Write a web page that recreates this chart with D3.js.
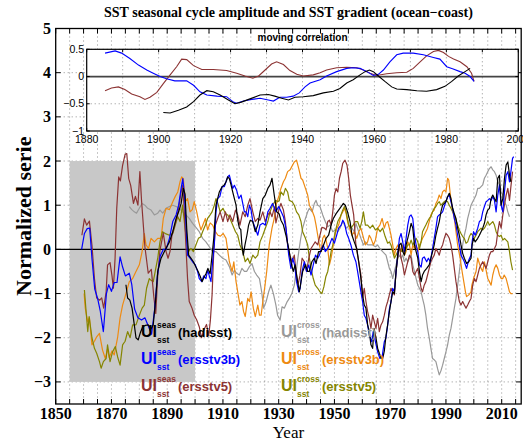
<!DOCTYPE html>
<html><head><meta charset="utf-8">
<script src="https://cdn.jsdelivr.net/npm/d3@7"></script>
<style>body{margin:0;background:#fff}</style>
</head><body><svg id="c" width="523" height="443"></svg>
<script>
// ---------- DATA ([year, value]) ----------
const seasHad = [[1875.2,-0.8],[1875.8,-1.1],[1876.6,-1.15],[1877.4,-1.33],[1878.2,-1.71],[1878.8,-2.0],[1879.6,-2.05],[1880.4,-1.88],[1881.2,-1.75],[1882.2,-1.72],[1883.2,-1.71],[1884.2,-1.8],[1885,-1.7],[1885.8,-1.18],[1886.6,-0.5],[1887.8,-0.2],[1889,-0.05],[1890.8,0.17],[1892,0.4],[1893.2,0.7],[1894.1,0.85],[1895,1.04],[1895.8,1.38],[1896.4,1.25],[1897,0.47],[1897.7,-0.13],[1898.5,-0.2],[1899.4,-0.28],[1900.3,-0.4],[1901.1,-0.5],[1901.9,-0.62],[1902.5,-0.73],[1903.3,-0.62],[1903.9,-0.55],[1904.6,-0.43],[1905.4,-0.55],[1906.1,-0.13],[1906.7,0.25],[1907.5,1.0],[1908.1,1.15],[1908.7,1.3],[1909.7,1.42],[1910.5,1.46],[1911.1,1.53],[1911.7,1.64],[1912.3,1.6],[1912.9,1.46],[1913.5,1.3],[1914.1,1.15],[1914.7,1.0],[1915.3,0.66],[1915.9,0.48],[1916.4,0.45],[1916.8,0.1],[1917.3,-0.13],[1917.9,0.1],[1918.6,0.32],[1919.2,0.55],[1919.8,0.66],[1920.7,0.63],[1921.6,0.4],[1922.5,0.55],[1923.3,0.85],[1924.3,1.15],[1925.2,1.23],[1926.1,1.38],[1926.9,1.46],[1927.6,1.61],[1928.4,1.23],[1929.3,0.85],[1930.2,0.8],[1930.8,0.66],[1931.7,0.55],[1932.6,0.32],[1933.6,0.02],[1934.4,-0.28],[1935.2,-0.5],[1935.9,-0.35],[1936.8,-0.73],[1937.4,-0.96],[1938,-0.73],[1938.6,-0.5],[1939.6,-0.35],[1940.4,-0.5],[1941,-0.5],[1941.9,-0.28],[1942.8,-0.2],[1943.4,-0.32],[1944.3,-0.05],[1945.2,-0.05],[1946.1,0.1],[1947,0.25],[1947.9,0.32],[1948.8,0.55],[1949.6,0.7],[1950.6,0.81],[1951.5,0.89],[1952.4,0.97],[1953.2,1.04],[1953.9,1.0],[1954.7,0.85],[1955.6,0.63],[1956.3,0.32],[1957.1,0.17],[1958,0.02],[1958.7,-0.28],[1959.5,-0.66],[1960.1,-1.03],[1960.7,-1.26],[1961.3,-1.33],[1961.9,-1.71],[1962.5,-1.86],[1963.1,-2.16],[1963.7,-2.24],[1964.2,-1.79],[1964.9,-2.0],[1965.5,-2.24],[1966.1,-2.35],[1966.7,-2.45],[1967.3,-2.47],[1967.9,-2.3],[1968.5,-1.95],[1969.1,-1.7],[1969.7,-1.41],[1970.3,-1.18],[1970.9,-0.96],[1971.5,-1.0],[1972.1,-0.5],[1972.7,-0.13],[1973.3,0.1],[1973.9,0.14],[1974.5,-0.05],[1975.1,-0.13],[1975.7,0.1],[1976.3,0.25],[1976.9,0.4],[1977.5,0.59],[1978.1,0.48],[1978.7,0.1],[1979.3,-0.05],[1979.9,-0.2],[1980.5,-0.5],[1981.1,-0.73],[1981.6,-0.58],[1982.2,-0.5],[1983.1,-0.43],[1984,-0.35],[1984.6,-0.2],[1985.2,-0.05],[1985.8,0.1],[1986.4,0.32],[1987,0.48],[1987.6,0.63],[1988.2,0.85],[1988.8,1.0],[1989.4,1.04],[1990,1.08],[1990.6,1.19],[1991.2,1.27],[1991.8,1.15],[1992.4,0.93],[1993,0.81],[1993.6,0.7],[1994.2,0.48],[1994.8,0.32],[1995.4,0.1],[1996,-0.09],[1996.6,-0.2],[1997.4,-0.32],[1998.2,-0.28],[1999,-0.2],[1999.4,0.1],[1999.9,0.25],[2000.5,0.17],[2001.4,0.25],[2002,0.32],[2002.6,0.4],[2003.2,0.48],[2003.8,0.59],[2004.4,0.78],[2005,0.89],[2005.6,0.93],[2006.2,1.15],[2006.8,1.23],[2007.4,1.15],[2008,1.08],[2008.6,1.61],[2009.2,1.68],[2009.8,1.0],[2010.4,1.15],[2011,1.61],[2011.6,1.91],[2012.2,1.98],[2012.8,1.68],[2013.3,1.53]];

const seasV3b = [[1859.3,0.0],[1860.3,0.36],[1861.3,0.47],[1862.2,0.48],[1863,-0.2],[1864,-0.9],[1865,-1.1],[1866,-1.4],[1867.1,-1.86],[1868.2,-1.0],[1869,-0.8],[1870,-0.95],[1871,-0.75],[1872,-0.75],[1873.1,-0.17],[1874,-0.4],[1875,-0.6],[1876.4,-0.54],[1877.3,-0.8],[1878.3,-1.35],[1879.5,-1.55],[1880.8,-1.6],[1882,-1.55],[1883,-1.7],[1884.4,-1.92],[1885.5,-1.35],[1886.5,-0.6],[1887.5,-0.15],[1888.6,0.0],[1889.6,0.0],[1890.8,0.25],[1892,0.63],[1893.2,0.78],[1894.1,1.0],[1895,1.38],[1895.6,1.6],[1896.2,1.23],[1896.8,0.48],[1897.3,-0.13],[1898.2,-0.2],[1899.1,-0.28],[1900.1,-0.35],[1900.9,-0.5],[1901.5,-0.66],[1902.4,-0.73],[1903.1,-0.6],[1903.9,-0.66],[1904.5,-0.47],[1905.1,-0.6],[1905.7,-0.73],[1906.3,-0.28],[1906.9,0.1],[1907.5,0.85],[1908.1,1.15],[1908.9,1.2],[1909.7,1.42],[1910.5,1.42],[1911.1,1.53],[1911.7,1.64],[1912.3,1.68],[1912.9,1.53],[1913.5,1.38],[1914.1,1.45],[1914.9,1.34],[1915.7,1.15],[1916.5,1.23],[1917.1,1.04],[1917.7,0.85],[1918.3,0.85],[1918.9,0.74],[1919.5,1.0],[1920.1,0.89],[1920.7,0.63],[1921.6,0.48],[1922.5,0.32],[1923.3,0.55],[1924.3,0.59],[1925.2,0.55],[1926.1,0.85],[1926.9,0.93],[1927.8,1.04],[1929,0.85],[1930,0.97],[1930.9,0.85],[1931.7,0.74],[1932.6,0.48],[1933.6,-0.13],[1934.4,-0.43],[1935,-0.2],[1935.7,-0.35],[1936.4,-0.73],[1937.2,-0.96],[1937.7,-0.88],[1938.4,-0.5],[1939.2,-0.28],[1940,-0.5],[1940.8,-0.35],[1941.6,-0.58],[1942.4,-0.35],[1943.2,-0.13],[1944,-0.2],[1944.6,-0.13],[1945.2,0.0],[1946,0.1],[1946.7,-0.05],[1947.6,0.02],[1948.2,0.1],[1949.1,0.25],[1950,0.14],[1950.8,0.32],[1951.5,0.48],[1952.4,0.55],[1953,0.66],[1953.6,0.59],[1954.4,0.36],[1955.1,0.25],[1955.9,0.1],[1956.8,-0.13],[1957.7,-0.28],[1958.3,-0.5],[1958.9,-0.73],[1959.5,-0.96],[1960.1,-1.18],[1960.7,-1.49],[1961.3,-1.56],[1961.9,-1.71],[1962.5,-1.94],[1963.4,-2.09],[1963.9,-1.86],[1964.7,-2.09],[1965.5,-2.32],[1966.3,-2.47],[1967.1,-2.43],[1967.9,-2.09],[1968.5,-2.0],[1969.1,-1.71],[1969.7,-1.35],[1970.3,-1.18],[1970.9,-0.88],[1971.5,-0.96],[1972.1,-0.5],[1972.7,-0.13],[1973.3,0.25],[1973.9,0.36],[1974.5,0.17],[1975.1,-0.05],[1975.7,0.25],[1976.3,0.55],[1976.9,0.74],[1977.5,0.78],[1978.1,0.7],[1978.7,0.32],[1979.3,0.1],[1979.9,-0.05],[1980.5,-0.35],[1981.1,-0.4],[1981.6,-0.2],[1982.2,-0.17],[1983.1,-0.28],[1983.7,-0.2],[1984.4,-0.28],[1985.2,0.02],[1985.8,0.25],[1986.4,0.48],[1987,0.74],[1987.6,0.78],[1988.2,0.81],[1988.8,0.85],[1989.4,0.97],[1990,1.08],[1990.6,1.19],[1991.2,1.23],[1991.8,1.08],[1992.4,0.93],[1993,0.7],[1993.6,0.55],[1994.2,0.32],[1994.8,0.1],[1995.4,-0.13],[1996,-0.2],[1996.6,-0.28],[1997.4,-0.43],[1998.2,-0.24],[1999,-0.13],[1999.4,0.17],[1999.9,0.4],[2000.5,0.32],[2001.4,0.48],[2002,0.63],[2002.6,0.66],[2003.2,0.85],[2003.8,0.97],[2004.4,1.08],[2005,1.11],[2005.6,1.15],[2006.2,1.11],[2006.8,1.19],[2007.4,1.11],[2008,0.85],[2008.6,1.23],[2009.2,1.46],[2009.8,1.0],[2010.4,0.85],[2011,1.3],[2011.6,1.68],[2012.2,1.76],[2012.8,1.53],[2013.3,1.76],[2013.9,2.06],[2014.3,2.1]];

const seasV5 = [[1859.4,0.32],[1860.3,0.69],[1861.1,0.55],[1862.1,0.64],[1863,0.1],[1863.9,-0.66],[1864.7,-1.1],[1865.8,-1.15],[1866.5,-1.1],[1867.2,-1.33],[1868.1,-0.96],[1868.6,-0.35],[1869.5,-0.3],[1870.2,-0.6],[1870.7,-0.88],[1871.3,-0.2],[1871.9,0.93],[1872.6,1.64],[1873.2,1.55],[1874,1.9],[1874.9,2.15],[1875.5,2.17],[1876.2,1.6],[1876.9,1.45],[1877.9,1.04],[1878.6,1.2],[1879.5,1.0],[1880.2,1.76],[1880.8,1.1],[1882,0.06],[1883.2,-0.54],[1884.3,-0.45],[1885.2,-1.07],[1885.9,-1.45],[1886.6,-0.6],[1887.4,-0.02],[1888.6,0.37],[1889.6,-0.05],[1890.3,-0.2],[1891,-0.05],[1891.7,0.32],[1892.5,0.5],[1893.4,0.7],[1894.1,0.93],[1895,1.3],[1895.6,1.46],[1896.1,0.9],[1896.7,0.1],[1897.3,-0.66],[1897.9,-1.18],[1898.9,-1.33],[1899.7,-1.49],[1900.6,-1.6],[1901.5,-1.75],[1902.3,-2.0],[1903.3,-1.8],[1904.1,-1.7],[1904.9,-1.95],[1905.5,-1.6],[1906.1,-1.03],[1906.7,-0.05],[1907.3,0.55],[1908.1,0.7],[1909,0.85],[1910,0.63],[1910.9,0.85],[1911.7,0.63],[1912.5,0.78],[1913.5,0.63],[1914.5,0.89],[1915.3,0.78],[1916.1,0.55],[1917.1,0.85],[1918,0.74],[1918.9,1.0],[1919.7,1.15],[1920.7,0.85],[1921.6,0.63],[1922.5,0.7],[1923.3,0.66],[1924.3,0.85],[1925.2,0.63],[1926.1,0.78],[1926.9,0.85],[1927.6,0.74],[1928.5,0.96],[1929,0.6],[1930.2,0.93],[1930.8,1.04],[1931.7,0.89],[1932.4,0.63],[1933.2,0.1],[1934,-0.13],[1934.8,-0.28],[1935.6,-0.13],[1936.2,-0.5],[1936.9,-0.81],[1937.6,-0.6],[1938.4,-0.2],[1939.2,-0.28],[1940,-0.5],[1940.8,-0.2],[1941.6,0.02],[1942.4,0.1],[1943.1,0.17],[1944,0.1],[1944.8,0.32],[1945.5,0.5],[1946.4,0.48],[1947,0.44],[1947.6,0.63],[1948.2,0.66],[1948.8,0.55],[1949.4,0.85],[1950,1.23],[1950.6,1.38],[1951.2,1.3],[1951.8,1.61],[1952.4,1.76],[1953,1.95],[1953.8,2.02],[1954.5,1.91],[1955.1,1.61],[1955.7,1.23],[1956.3,1.0],[1956.9,0.78],[1957.7,0.1],[1958.3,-0.13],[1958.9,-0.35],[1959.5,-0.58],[1960.1,-1.1],[1960.7,-0.88],[1961.3,-1.18],[1961.9,-1.41],[1962.5,-1.56],[1963.1,-1.79],[1963.7,-1.49],[1964.3,-1.64],[1964.9,-1.79],[1965.5,-1.56],[1966.1,-1.86],[1966.7,-1.71],[1967.3,-1.64],[1967.9,-1.49],[1968.5,-1.3],[1969.1,-1.18],[1969.7,-1.03],[1970.3,-0.88],[1970.9,-0.96],[1971.5,-1.03],[1972.1,-0.5],[1972.7,-0.2],[1973.3,0.1],[1973.9,-0.2],[1974.5,-0.35],[1975.1,-0.58],[1975.7,-0.43],[1976.3,-0.28],[1976.9,-0.13],[1977.5,-0.2],[1978.1,-0.5],[1978.7,-0.58],[1979.3,-0.5],[1979.9,-0.43],[1980.5,-0.66],[1981.1,-0.88],[1981.6,-0.96],[1982.2,-0.81],[1982.8,-0.73],[1983.4,-0.58],[1984,-0.43],[1984.6,-0.28],[1985.2,-0.2],[1985.8,-0.13],[1986.4,0.02],[1987,-0.05],[1987.6,-0.13],[1988.2,0.02],[1988.8,0.1],[1989.4,0.25],[1990,0.36],[1990.6,0.32],[1991.2,0.25],[1991.8,0.1],[1992.4,-0.13],[1993,-0.43],[1993.6,-0.73],[1994.2,-0.96],[1994.8,-1.18],[1995.4,-1.26],[1996,-1.18],[1996.6,-1.26],[1997.2,-1.33],[1997.8,-1.26],[1998.4,-1.18],[1999,-1.11],[1999.6,-0.81],[2000.2,-0.66],[2000.8,-0.73],[2001.4,-0.58],[2002,-0.43],[2002.6,-0.35],[2003.2,-0.28],[2003.8,-0.35],[2004.4,-0.43],[2005,-0.28],[2005.6,-0.13],[2006.2,-0.05],[2006.8,-0.05],[2007.4,0.02],[2008,0.1],[2008.6,0.4],[2009.2,0.63],[2009.8,0.48],[2010.4,0.78],[2011,1.0],[2011.6,1.23],[2012.2,1.38],[2012.8,1.11],[2013.3,1.42],[2013.9,1.76]];

const crossHad = [[1876.4,0.97],[1877.3,0.9],[1878.2,0.85],[1879,0.82],[1880,0.93],[1881,1.04],[1882,1.0],[1883,0.93],[1884.2,0.89],[1885.4,0.78],[1886.6,0.82],[1887.4,0.89],[1888.4,0.82],[1889.6,0.93],[1890.8,0.97],[1892,1.0],[1893.2,0.97],[1894.4,0.93],[1895.5,0.85],[1896.7,0.78],[1897.9,0.7],[1899.1,0.59],[1900.3,0.5],[1901.5,0.4],[1902.7,0.25],[1903.9,0.17],[1905.1,0.06],[1906.3,-0.05],[1907.5,-0.05],[1908.7,-0.13],[1909.9,-0.2],[1911.1,-0.24],[1912.3,-0.39],[1913.3,-0.58],[1914.1,-0.47],[1914.9,-0.54],[1915.9,-0.58],[1916.8,-0.43],[1917.7,-0.5],[1918.5,-0.5],[1919.5,-0.39],[1920.4,-0.32],[1921.3,-0.5],[1922.1,-0.58],[1923.1,-0.66],[1923.9,-0.96],[1924.6,-1.33],[1925.5,-1.18],[1926.4,-0.96],[1927.2,-0.81],[1928.1,-1.0],[1929,-1.26],[1929.6,-1.49],[1930.5,-1.6],[1931.2,-1.3],[1932,-1.33],[1932.9,-1.2],[1933.8,-1.11],[1934.7,-1.0],[1935.6,-0.81],[1936.4,-0.43],[1937.2,-0.05],[1937.9,0.25],[1938.6,0.48],[1939.6,0.7],[1940.4,0.85],[1941,0.93],[1942,0.85],[1942.8,1.04],[1943.4,1.11],[1944,1.0],[1944.8,0.97],[1945.8,0.78],[1946.7,0.63],[1947.6,0.51],[1948.4,0.55],[1949.4,0.4],[1950.3,0.44],[1951.2,0.4],[1952,0.48],[1953,0.63],[1953.6,0.55],[1954.4,0.48],[1955.3,0.55],[1956.3,0.48],[1957.1,0.4],[1957.7,0.59],[1958.7,0.4],[1959.5,0.25],[1960.4,0.1],[1961.1,0.17],[1962,0.1],[1962.8,0.1],[1963.7,0.1],[1964.7,0.06],[1965.5,0.1],[1966.3,0.02],[1967.3,-0.05],[1968.5,-0.13],[1969.1,-0.28],[1969.7,-0.43],[1970.3,-0.5],[1970.9,-0.66],[1971.5,-0.5],[1972.1,-0.35],[1972.7,-0.2],[1973.3,-0.13],[1973.9,-0.2],[1974.5,-0.13],[1975.1,-0.28],[1975.7,-0.2],[1976.3,-0.28],[1976.9,-0.2],[1977.5,-0.13],[1978.1,-0.35],[1978.7,-0.5],[1979.3,-0.66],[1979.9,-0.81],[1980.5,-0.88],[1981.1,-0.96],[1981.6,-1.11],[1982.2,-1.26],[1982.8,-1.49],[1983.4,-1.79],[1984,-2.0],[1984.6,-2.24],[1985.2,-2.47],[1985.8,-2.5],[1986.4,-2.54],[1987,-2.7],[1987.6,-2.84],[1988.2,-2.75],[1988.8,-2.62],[1989.4,-2.47],[1990,-2.32],[1990.6,-2.16],[1991.2,-1.94],[1991.8,-1.79],[1992.4,-1.56],[1993,-1.33],[1993.6,-1.11],[1994.2,-0.81],[1994.8,-0.5],[1995.4,-0.2],[1996,0.1],[1996.6,0.32],[1997.2,0.48],[1997.8,0.7],[1998.4,0.85],[1999,1.0],[1999.6,1.08],[2000.2,1.15],[2000.8,1.23],[2001.4,1.38],[2002,1.38],[2002.6,1.42],[2003.2,1.46],[2003.8,1.61],[2004.4,1.68],[2005,1.76],[2005.6,1.83],[2006.2,1.87],[2006.8,1.8],[2007.4,1.76],[2008,1.68],[2008.6,1.53],[2009.2,1.46],[2009.8,1.3],[2010.4,1.23],[2011,1.08],[2011.6,1.0],[2012.2,0.85],[2012.8,0.74]];

const crossV3b = [[1860.2,-1.0],[1860.6,-1.33],[1861.5,-1.64],[1862.1,-1.55],[1863,-2.16],[1863.9,-2.08],[1864.7,-1.98],[1865.7,-1.9],[1866.8,-2.28],[1867.8,-2.47],[1868.6,-2.25],[1869.2,-2.45],[1870.2,-2.3],[1871,-2.39],[1872.2,-2.0],[1873.1,-1.55],[1874,-1.26],[1875.2,-1.0],[1876.4,-0.73],[1877.6,-0.66],[1878.8,-0.5],[1880,-0.35],[1881,-0.05],[1881.8,0.36],[1882.4,0.1],[1883.3,0.02],[1884.2,0.25],[1885.4,0.17],[1886.6,0.25],[1887.8,0.25],[1888.6,0.7],[1889.6,0.93],[1890.8,0.9],[1892,1.08],[1892.9,1.2],[1893.8,1.3],[1894.6,1.53],[1895.2,1.64],[1895.8,1.6],[1896.5,1.08],[1897.3,1.15],[1898.2,0.85],[1899,0.9],[1899.7,1.08],[1900.6,0.85],[1901.3,0.63],[1902.1,0.44],[1902.8,0.55],[1903.7,0.7],[1904.5,0.44],[1905.4,0.6],[1906.3,0.55],[1907.3,0.4],[1908.2,0.32],[1909.1,0.3],[1910.1,0.36],[1911.1,0.25],[1912.3,-0.28],[1913.3,-0.5],[1913.9,-0.28],[1914.7,-0.73],[1915.3,-0.96],[1916.1,-1.26],[1916.8,-1.18],[1917.4,-1.41],[1918,-1.52],[1918.9,-1.11],[1919.5,-1.18],[1920.1,-0.96],[1920.9,-1.33],[1921.6,-1.52],[1922.5,-1.26],[1923.1,-1.49],[1923.7,-1.49],[1924.3,-1.18],[1925.1,-0.81],[1925.7,-0.5],[1926.6,0.1],[1927.6,0.48],[1928.4,0.7],[1929,1.0],[1930,1.19],[1930.8,1.38],[1931.7,1.53],[1932.4,1.61],[1933.2,1.76],[1934.1,1.8],[1935,1.91],[1935.6,1.98],[1936.4,2.02],[1937.2,1.83],[1938,1.61],[1938.6,1.57],[1939.6,1.38],[1940.4,1.23],[1941,1.0],[1941.9,0.89],[1942.8,0.74],[1943.4,0.55],[1944,0.32],[1944.6,0.1],[1945.2,-0.05],[1945.8,0.25],[1946.4,0.32],[1947,0.21],[1947.6,0.02],[1948.2,-0.35],[1948.8,-0.2],[1949.4,0.02],[1950,0.25],[1950.6,0.44],[1951.5,0.55],[1952.4,0.78],[1953,0.85],[1953.6,0.93],[1954.2,0.81],[1954.7,0.63],[1955.6,0.44],[1956.3,0.32],[1957.1,0.4],[1958,0.25],[1958.7,0.4],[1959.5,0.48],[1960.3,0.29],[1961.1,0.1],[1961.9,0.17],[1962.5,0.32],[1963.1,0.25],[1964,0.1],[1964.7,0.21],[1965.5,0.48],[1966.3,0.55],[1967.1,0.7],[1967.9,0.48],[1968.5,0.6],[1969.1,0.63],[1969.7,0.48],[1970.3,0.32],[1970.9,0.1],[1971.5,-0.13],[1972.1,0.02],[1972.7,0.1],[1973.3,0.02],[1973.9,-0.05],[1974.5,0.1],[1975.1,-0.13],[1975.7,-0.05],[1976.3,0.17],[1976.9,0.1],[1977.5,-0.13],[1978.1,0.1],[1978.7,0.02],[1979.3,0.1],[1979.9,-0.05],[1980.5,0.1],[1981.1,0.17],[1981.6,0.25],[1982.2,0.32],[1982.8,0.4],[1983.4,0.48],[1984,0.63],[1984.6,0.78],[1985.2,0.85],[1985.8,0.89],[1986.4,1.04],[1987,1.11],[1987.6,1.23],[1988.2,1.15],[1988.8,1.3],[1989.4,1.34],[1990,1.3],[1990.6,1.61],[1991,1.57],[1991.6,1.23],[1992.2,0.93],[1993,0.7],[1993.6,0.4],[1994.2,0.1],[1995.1,-0.2],[1995.8,-0.5],[1996.4,-0.73],[1997,-0.96],[1997.4,-1.07],[1998.2,-1.03],[1999,-0.96],[1999.3,-0.81],[1999.9,-0.66],[2000.8,-0.5],[2001.4,-0.2],[2002,-0.32],[2002.6,-0.43],[2003.2,-0.5],[2003.8,-0.28],[2004.4,-0.47],[2005,-0.66],[2005.6,-0.73],[2006.2,-0.81],[2006.8,-0.58],[2007.4,-0.43],[2008,-0.35],[2008.6,-0.43],[2009.2,-0.58],[2009.8,-0.66],[2010.4,-0.66],[2010.9,-0.58],[2011.6,-0.66],[2012.2,-0.81],[2012.8,-0.96],[2013.3,-1.0],[2013.9,-1.0]];

const crossV5 = [[1860.3,-0.92],[1860.9,-1.4],[1861.5,-1.86],[1862,-1.52],[1863,-2.0],[1863.9,-2.24],[1864.7,-2.35],[1865.7,-2.54],[1866.3,-2.69],[1867.1,-2.54],[1868.1,-2.47],[1868.6,-2.16],[1869.5,-2.54],[1870.4,-2.32],[1871.4,-2.2],[1872.2,-2.43],[1873.1,-2.62],[1874,-2.16],[1874.9,-2.08],[1875.8,-1.86],[1876.7,-2.0],[1877.6,-1.71],[1878.8,-1.71],[1880,-1.49],[1881,-1.33],[1881.8,-1.26],[1882.6,-0.88],[1883.6,-0.66],[1884.2,-0.7],[1885,-0.73],[1885.7,-0.5],[1886.6,-0.2],[1887.4,0.17],[1888.3,0.4],[1889.6,0.35],[1890.8,0.32],[1892,0.36],[1892.9,0.55],[1893.8,0.74],[1894.6,0.63],[1895.5,1.0],[1896.2,0.6],[1897,0.17],[1897.7,-0.05],[1898.5,0.02],[1899.4,-0.05],[1900.3,0.1],[1901.2,0.25],[1902,0.28],[1902.7,0.4],[1903.7,0.55],[1904.5,0.7],[1905.4,0.78],[1906.1,0.85],[1906.9,1.0],[1907.5,1.15],[1908.2,1.04],[1909,0.85],[1910,0.93],[1910.9,0.81],[1911.7,0.78],[1912.5,0.7],[1913.5,0.55],[1914.5,0.4],[1915.3,0.32],[1916.1,0.1],[1917.1,-0.05],[1918,-0.28],[1918.9,-0.2],[1919.7,-0.32],[1920.7,-0.13],[1921.6,-0.2],[1922.5,-0.13],[1923.3,0.17],[1924.3,0.32],[1925.2,0.48],[1926.1,0.63],[1926.9,0.85],[1927.8,1.0],[1928.9,1.11],[1929.6,1.08],[1930.2,1.1],[1930.8,1.3],[1931.7,1.23],[1932.4,1.38],[1933.2,1.3],[1933.8,1.11],[1934.8,1.08],[1935.6,1.0],[1936.4,0.85],[1937.2,0.78],[1938,0.63],[1938.6,0.4],[1939.6,0.25],[1940.4,0.1],[1941,-0.2],[1941.6,-0.43],[1942.4,-0.66],[1943.1,-0.81],[1944,-0.88],[1944.8,-0.96],[1945.5,-1.0],[1946.2,-0.85],[1946.9,-0.62],[1947.6,-0.5],[1948.2,-0.28],[1948.8,-0.05],[1949.4,0.1],[1950.3,0.4],[1951.2,0.63],[1952.1,0.74],[1953,0.89],[1953.6,0.97],[1954.2,0.85],[1955.1,0.55],[1955.9,0.48],[1956.7,0.55],[1957.5,0.63],[1958.3,0.63],[1959.2,0.48],[1959.8,0.63],[1960.4,0.85],[1961.1,0.55],[1961.9,0.55],[1962.8,0.48],[1963.7,0.55],[1964.7,0.44],[1965.5,0.48],[1966.4,0.4],[1967.3,0.48],[1968.2,0.29],[1969.1,0.14],[1969.7,0.17],[1970.3,0.1],[1970.9,-0.05],[1971.5,-0.2],[1972.1,-0.13],[1972.7,-0.05],[1973.3,0.02],[1973.9,-0.05],[1974.5,-0.02],[1975.1,-0.05],[1975.7,0.02],[1976.3,0.1],[1976.9,0.1],[1977.5,0.21],[1978.1,0.1],[1978.7,0.17],[1979.3,0.25],[1979.9,0.17],[1980.5,0.02],[1981.1,0.17],[1981.6,0.4],[1982.2,0.48],[1982.8,0.55],[1983.4,0.63],[1984,0.7],[1984.6,0.74],[1985.2,0.85],[1985.8,0.93],[1986.4,0.97],[1987,1.04],[1987.6,1.08],[1988.2,1.0],[1988.8,1.04],[1989.4,1.08],[1990,1.11],[1990.6,1.08],[1991.2,1.0],[1991.8,0.93],[1992.4,0.85],[1993,0.78],[1993.6,0.66],[1994.2,0.55],[1994.8,0.44],[1995.4,0.36],[1996,0.29],[1996.6,0.25],[1997.2,0.14],[1997.8,0.17],[1998.4,0.29],[1999,0.36],[1999.6,0.32],[2000.2,0.25],[2000.8,0.32],[2001.4,0.4],[2002,0.44],[2002.6,0.48],[2003.2,0.44],[2003.8,0.48],[2004.4,0.55],[2005,0.63],[2005.6,0.55],[2006.2,0.59],[2006.8,0.63],[2007.4,0.55],[2008,0.4],[2008.6,0.32],[2009.2,0.29],[2009.8,0.32],[2010.4,0.21],[2011,0.25],[2011.6,0.21],[2012.2,0.17],[2012.8,-0.05],[2013.3,-0.28],[2013.9,-0.47]];

// inset: moving correlation
const corrBlue = [[1885.1,0.43],[1887.9,0.47],[1889.7,0.43],[1892,0.33],[1894.4,0.21],[1896.7,0.12],[1898.5,0.06],[1900.4,0.0],[1902.2,-0.04],[1904.5,-0.08],[1907.8,-0.08],[1909.7,-0.16],[1911.5,-0.28],[1913.4,-0.34],[1916.2,-0.36],[1918.9,-0.37],[1920.8,-0.47],[1921.7,-0.49],[1923.6,-0.45],[1925.9,-0.42],[1928.2,-0.4],[1930.5,-0.43],[1931.9,-0.45],[1933.7,-0.38],[1935.6,-0.38],[1937.4,-0.36],[1939.1,-0.3],[1940.7,-0.19],[1942.1,-0.12],[1944.9,-0.06],[1946.7,0.01],[1949.5,0.09],[1952.3,0.15],[1954.1,0.16],[1956,0.15],[1957.9,0.09],[1959.7,0.02],[1961.1,0.04],[1962.5,0.12],[1964.3,0.27],[1966.2,0.4],[1968,0.43],[1970.8,0.43],[1973.6,0.4],[1976.4,0.35],[1978.2,0.32],[1980.1,0.18],[1981.9,0.14],[1983.8,0.09],[1985.2,0.06],[1986.6,0.0],[1987.7,-0.09]];
const corrBrown = [[1885.1,-0.26],[1886.9,-0.21],[1888.8,-0.19],[1890.6,-0.24],[1892.5,-0.32],[1894.8,-0.37],[1896.2,-0.42],[1897.6,-0.38],[1899.5,-0.29],[1901.3,-0.13],[1903.2,0.03],[1905,0.18],[1906.4,0.32],[1907.8,0.31],[1909.7,0.2],[1912,0.13],[1915.2,0.13],[1918.9,0.11],[1921.7,0.06],[1924,0.01],[1926.2,-0.03],[1927.8,0.01],[1929.6,0.12],[1931.4,0.23],[1932.8,0.27],[1934.7,0.22],[1936.5,0.11],[1938.4,0.04],[1940.2,0.01],[1943,0.03],[1944.9,0.07],[1946.7,0.12],[1949.5,0.16],[1952.3,0.17],[1955.1,0.16],[1956.9,0.12],[1958.8,0.06],[1960.6,0.02],[1963.4,0.05],[1966.2,0.07],[1969,0.08],[1970.8,0.15],[1972.7,0.27],[1974.5,0.38],[1976.4,0.46],[1977.8,0.48],[1979.2,0.44],[1980.6,0.37],[1982,0.32],[1983.8,0.27],[1985.7,0.18],[1987,0.06],[1987.7,-0.09]];
const corrBlack = [[1901.3,-0.66],[1903.2,-0.67],[1905.5,-0.62],[1907.8,-0.56],[1909.7,-0.46],[1911.5,-0.34],[1913.4,-0.26],[1915.2,-0.28],[1917.1,-0.34],[1919.4,-0.43],[1921.2,-0.5],[1923,-0.47],[1925.4,-0.41],[1928.2,-0.34],[1930.5,-0.33],[1932.3,-0.36],[1934.2,-0.4],[1936.1,-0.43],[1937.9,-0.38],[1940.2,-0.37],[1943,-0.35],[1945.8,-0.3],[1948.6,-0.27],[1950.4,-0.22],[1952.3,-0.12],[1954.1,-0.06],[1956,0.03],[1957.4,0.09],[1958.6,0.12],[1959.7,0.09],[1961.1,0.01],[1962.9,-0.09],[1964.8,-0.19],[1966.2,-0.23],[1969,-0.24],[1971.8,-0.26],[1974.5,-0.27],[1977.3,-0.24],[1979.6,-0.18],[1981.5,-0.09],[1983.3,0.01],[1985.2,0.09],[1986.6,0.15]];

const yTickLabels = [5,4,3,2,1,0,-1,-2,-3];
const xTickLabels = [1850,1870,1890,1910,1930,1950,1970,1990,2010];
const insetYTicks = [0.5,0,-0.5,-1];
const insetXTickLabels = [1880,1900,1920,1940,1960,1980,2000];
const shadeYears = [1855,1900];
const shadeRange = [-3,2];

// ---------- DRAW ----------
const svg = d3.select('#c');
const serif = '"Liberation Serif","Times New Roman",Times,serif';
const sans = '"Liberation Sans",Arial,Helvetica,sans-serif';
const minus = v => String(v).replace('-', '\u2212');

const M = {l:55.7, r:521.2, t:28.5, b:404};
const x = d3.scaleLinear().domain([1850,2017]).range([M.l,M.r]);
const y = d3.scaleLinear().domain([-3.5,5]).range([M.b,M.t]);

svg.append('rect').attr('width',523).attr('height',443).attr('fill','#fff');

const grid = svg.append('g').attr('stroke','#000').attr('stroke-opacity',0.55).attr('stroke-width',0.8).attr('stroke-dasharray','1,3');
d3.range(1855,2017,5).forEach(v=>grid.append('line').attr('x1',x(v)).attr('x2',x(v)).attr('y1',M.t).attr('y2',M.b));
d3.range(-3,5,1).forEach(v=>grid.append('line').attr('x1',M.l).attr('x2',M.r).attr('y1',y(v)).attr('y2',y(v)));

svg.append('rect').attr('x',x(shadeYears[0])).attr('y',y(shadeRange[1]))
  .attr('width',x(shadeYears[1])-x(shadeYears[0])).attr('height',y(shadeRange[0])-y(shadeRange[1]))
  .attr('fill','#c8c8c8');

svg.append('line').attr('x1',M.l).attr('x2',M.r).attr('y1',y(0)).attr('y2',y(0)).attr('stroke','#000').attr('stroke-width',1.2);

const line = d3.line().x(d=>x(d[0])).y(d=>y(d[1]));
const series = [
  {d:crossHad,c:'#999999'},{d:crossV3b,c:'#ee8a12'},{d:crossV5,c:'#858500'},
  {d:seasV5,c:'#8c3333'},{d:seasV3b,c:'#0000ff'},{d:seasHad,c:'#000000'}
];
series.forEach(s=>svg.append('path').attr('d',line(s.d)).attr('fill','none').attr('stroke',s.c).attr('stroke-width',1.2).attr('stroke-linejoin','round'));

// legend
function legend(x0, yb, sup, label, color, lx){
  const g = svg.append('g').attr('fill',color).attr('font-family',sans).attr('font-weight','bold');
  g.append('text').attr('x',x0).attr('y',yb).attr('font-size',16).text('UI');
  g.append('text').attr('x',x0+16).attr('y',yb-9).attr('font-size',8.5).text(sup);
  g.append('text').attr('x',x0+16).attr('y',yb+6).attr('font-size',8.5).text('sst');
  g.append('text').attr('x',lx).attr('y',yb).attr('font-size',13).text(label);
}
legend(141,337,'seas','(hadisst)','#000',178);
legend(141,364,'seas','(ersstv3b)','#0000ff',178);
legend(141,391,'seas','(ersstv5)','#8c3333',178);
legend(281,337,'cross','(hadisst)','#999999',322);
legend(281,364,'cross','(ersstv3b)','#ee8a12',322);
legend(281,391,'cross','(ersstv5)','#858500',322);

// axes box & ticks
const ax = svg.append('g').attr('stroke','#000').attr('stroke-width',1);
ax.append('rect').attr('x',M.l).attr('y',M.t).attr('width',M.r-M.l).attr('height',M.b-M.t).attr('fill','none').attr('stroke-width',1.3);
d3.range(1850,2017,5).forEach(v=>{
  ax.append('line').attr('x1',x(v)).attr('x2',x(v)).attr('y1',M.b).attr('y2',M.b-5);
  ax.append('line').attr('x1',x(v)).attr('x2',x(v)).attr('y1',M.t).attr('y2',M.t+5);
});
d3.range(-3,5,1).forEach(v=>{
  ax.append('line').attr('x1',M.l).attr('x2',M.l+5).attr('y1',y(v)).attr('y2',y(v));
  ax.append('line').attr('x1',M.r).attr('x2',M.r-5).attr('y1',y(v)).attr('y2',y(v));
});
yTickLabels.forEach(v=>svg.append('text').attr('x',51).attr('y',y(v)+5.5).attr('text-anchor','end')
  .attr('font-family',serif).attr('font-weight','bold').attr('font-size',16).text(minus(v)));
xTickLabels.forEach(v=>svg.append('text').attr('x',x(v)).attr('y',419).attr('text-anchor','middle')
  .attr('font-family',serif).attr('font-weight','bold').attr('font-size',16).text(v));

svg.append('text').attr('x',(M.l+M.r)/2).attr('y',17).attr('text-anchor','middle')
  .attr('font-family',serif).attr('font-weight','bold').attr('font-size',14)
  .text('SST seasonal cycle amplitude and SST gradient (ocean\u2212coast)');
svg.append('text').attr('x',(M.l+M.r)/2).attr('y',438).attr('text-anchor','middle')
  .attr('font-family',serif).attr('font-size',17).text('Year');
svg.append('text').attr('transform',`translate(31,${(M.t+M.b)/2}) rotate(-90)`).attr('text-anchor','middle')
  .attr('font-family',serif).attr('font-weight','bold').attr('font-size',22).text('Normalized serie');

// ---------- INSET ----------
const I = {l:86.7, r:518.3, t:49.3, b:131};
const xi = d3.scaleLinear().domain([1880,2000]).range([I.l,I.r]);
const yi = d3.scaleLinear().domain([-1,0.5]).range([I.b,I.t]);
svg.append('rect').attr('x',I.l).attr('y',I.t).attr('width',I.r-I.l).attr('height',I.b-I.t).attr('fill','#fff');
const gi = svg.append('g').attr('stroke','#000').attr('stroke-opacity',0.55).attr('stroke-width',0.8).attr('stroke-dasharray','1,3');
d3.range(1890,2000,10).forEach(v=>gi.append('line').attr('x1',xi(v)).attr('x2',xi(v)).attr('y1',I.t).attr('y2',I.b));
[-0.5,0,0.5].forEach(v=>gi.append('line').attr('x1',I.l).attr('x2',I.r).attr('y1',yi(v)).attr('y2',yi(v)));
svg.append('line').attr('x1',I.l).attr('x2',I.r).attr('y1',yi(0)).attr('y2',yi(0)).attr('stroke','#444').attr('stroke-width',1.8);
const linei = d3.line().x(d=>xi(d[0])).y(d=>yi(d[1]));
[{d:corrBrown,c:'#8c3333'},{d:corrBlue,c:'#0000ff'},{d:corrBlack,c:'#000'}].forEach(s=>
  svg.append('path').attr('d',linei(s.d)).attr('fill','none').attr('stroke',s.c).attr('stroke-width',1.1));
const ai = svg.append('g').attr('stroke','#000');
ai.append('rect').attr('x',I.l).attr('y',I.t).attr('width',I.r-I.l).attr('height',I.b-I.t).attr('fill','none').attr('stroke-width',1.2);
d3.range(1880,2001,10).forEach(v=>{
  ai.append('line').attr('x1',xi(v)).attr('x2',xi(v)).attr('y1',I.b).attr('y2',I.b-3);
  ai.append('line').attr('x1',xi(v)).attr('x2',xi(v)).attr('y1',I.t).attr('y2',I.t+3);
});
insetYTicks.forEach(v=>{
  ai.append('line').attr('x1',I.l).attr('x2',I.l+3).attr('y1',yi(v)).attr('y2',yi(v));
  ai.append('line').attr('x1',I.r).attr('x2',I.r-3).attr('y1',yi(v)).attr('y2',yi(v));
});
insetYTicks.forEach(v=>svg.append('text').attr('x',84).attr('y',yi(v)+3.5).attr('text-anchor','end')
  .attr('font-family',sans).attr('font-size',10.5).text(minus(v)));
insetXTickLabels.forEach(v=>svg.append('text').attr('x',xi(v)).attr('y',143).attr('text-anchor','middle')
  .attr('font-family',sans).attr('font-size',10.5).text(v));
svg.append('text').attr('x',(I.l+I.r)/2).attr('y',41).attr('text-anchor','middle')
  .attr('font-family',sans).attr('font-weight','bold').attr('font-size',10).text('moving correlation');
</script></body></html>
